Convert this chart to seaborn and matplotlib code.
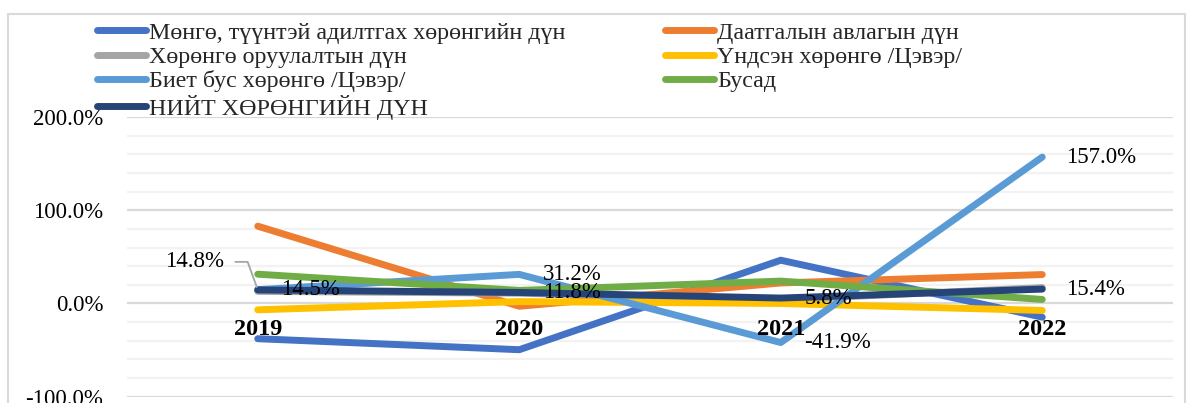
import numpy as np
import pandas as pd
import matplotlib
matplotlib.use("Agg")
import matplotlib.pyplot as plt
import seaborn as sns
from matplotlib.ticker import MultipleLocator, FuncFormatter
from matplotlib.patches import Rectangle
from matplotlib.lines import Line2D

# ---------------- data ----------------
years = ["2019", "2020", "2021", "2022"]
series_names = [
    "Мөнгө, түүнтэй адилтгах хөрөнгийн дүн",
    "Даатгалын авлагын дүн",
    "Хөрөнгө оруулалтын дүн",
    "Үндсэн хөрөнгө /Цэвэр/",
    "Биет бус хөрөнгө /Цэвэр/",
    "Бусад",
    "НИЙТ ХӨРӨНГИЙН ДҮН",
]
mongo = [-37.8, -49.6, 46.4, -14.7]
daatgal = [82.9, -3.0, 22.0, 31.0]
oruulalt = [13.0, 11.0, 4.0, 17.0]
undsen = [-6.8, 2.0, 0.0, -7.5]
biet_bus = [14.8, 31.2, -41.9, 157.0]
busad = [31.4, 14.0, 24.0, 4.3]
niit = [14.5, 11.8, 5.8, 15.4]
colors = ["#4472C4", "#ED7D31", "#A5A5A5", "#FFC000", "#5B9BD5", "#70AD47", "#264478"]

values = [mongo, daatgal, oruulalt, undsen, biet_bus, busad, niit]
df = pd.DataFrame(
    [(s, y, v) for s, vals in zip(series_names, values) for y, v in zip(years, vals)],
    columns=["series", "year", "value"],
)

# ---------------- style ----------------
sns.set_theme(style="white")
plt.rcParams["font.family"] = ["Liberation Serif", "DejaVu Serif"]

W, H = 1191, 403
fig = plt.figure(figsize=(W / 100, H / 100), dpi=100)
fig.patch.set_facecolor("white")
ax = fig.add_axes([127 / W, (H - 396.7) / H, (1173 - 127) / W, (396.7 - 117) / H])

sns.lineplot(
    data=df, x="year", y="value", hue="series", hue_order=series_names,
    palette=colors, linewidth=5, sort=False, ax=ax, legend=False,
    solid_capstyle="round", solid_joinstyle="round",
)

ax.set_xlim(-0.5, 3.5)
ax.set_ylim(-100, 200)
ax.yaxis.set_major_locator(MultipleLocator(100))
ax.yaxis.set_minor_locator(MultipleLocator(20))
ax.yaxis.set_major_formatter(FuncFormatter(lambda v, p: f"{v:.1f}%"))
ax.grid(axis="y", which="major", color="#D9D9D9", linewidth=1.6, zorder=0)
ax.grid(axis="y", which="minor", color="#F2F2F2", linewidth=1.6, zorder=0)
ax.grid(axis="x", visible=False)
ax.set_axisbelow(True)
for sp in ax.spines.values():
    sp.set_visible(False)
ax.spines["bottom"].set_position(("data", 0))
ax.set_xlabel("")
ax.set_ylabel("")
ax.tick_params(axis="y", which="both", length=0, pad=17, labelsize=16.5, labelcolor="black")
ax.tick_params(axis="x", length=0, pad=11, labelsize=17.5, labelcolor="black")
for t in ax.get_xticklabels():
    t.set_fontweight("bold")
ax.xaxis.set_zorder(5)

# ---------------- data labels ----------------
for i, v in enumerate(biet_bus):
    if i == 0:
        ax.annotate(
            f"{v:.1f}%", xy=(i, v), xytext=(-24.5, 20), textcoords="offset points",
            ha="right", va="center", fontsize=16.5, color="black",
            arrowprops=dict(arrowstyle="-", color="#A5A5A5", lw=1.3,
                            connectionstyle="angle,angleA=0,angleB=110,rad=0",
                            shrinkA=6, shrinkB=2),
        )
    else:
        ax.annotate(f"{v:.1f}%", xy=(i, v), xytext=(17, 0), textcoords="offset points",
                    ha="left", va="center", fontsize=16.5, color="black")
for i, v in enumerate(niit):
    ax.annotate(f"{v:.1f}%", xy=(i, v), xytext=(17, 0), textcoords="offset points",
                ha="left", va="center", fontsize=16.5, color="black")

# ---------------- legend ----------------
handles = [Line2D([0], [0], color=c, lw=5, solid_capstyle="round") for c in colors]
order = [0, 2, 4, 6, 1, 3, 5]
fig.legend(
    [handles[k] for k in order], [series_names[k] for k in order],
    ncol=2, loc="upper left", bbox_to_anchor=(97 / W, 1 - 22 / H),
    frameon=False, fontsize=17.3, handlelength=2.05, handletextpad=0.12,
    labelspacing=0.1, columnspacing=4.15, borderpad=0, borderaxespad=0,
)

# chart-area border
fig.patches.append(Rectangle((8 / W, -0.1), (1185 - 8) / W, (H - 14) / H + 0.1,
                             transform=fig.transFigure, fill=False,
                             edgecolor="#D9D9D9", linewidth=1.5))

fig.savefig("out.png", dpi=100, facecolor="white")
